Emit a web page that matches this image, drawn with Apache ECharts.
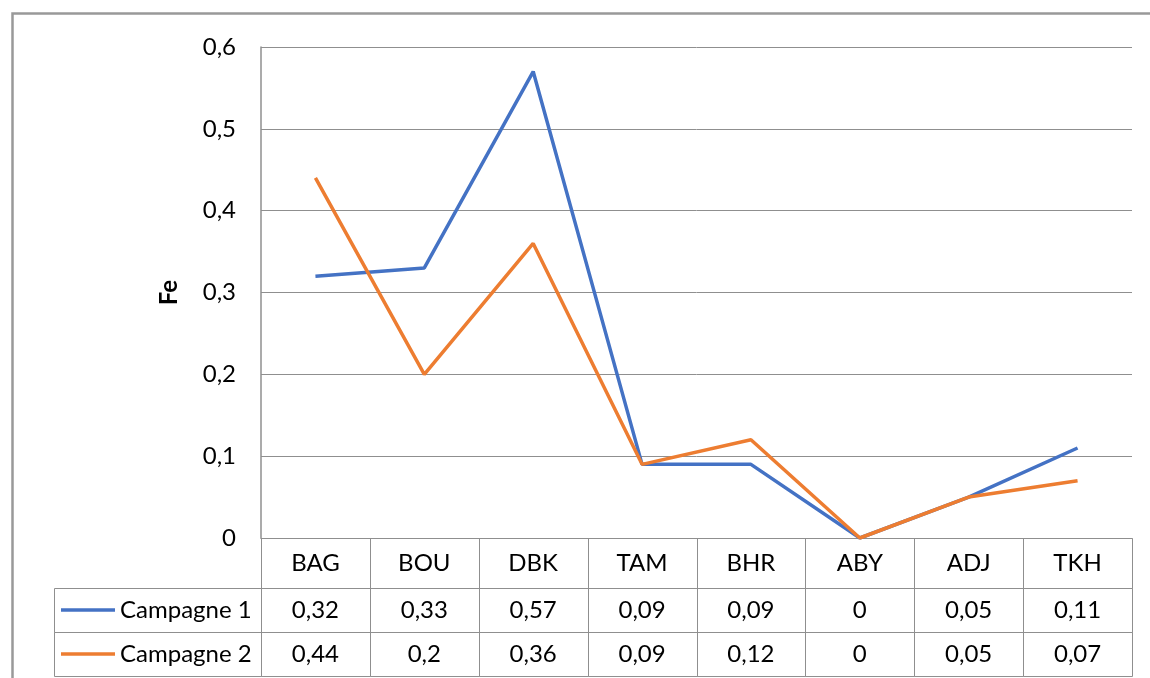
<!DOCTYPE html>
<html>
<head>
<meta charset="utf-8">
<script src="https://cdn.jsdelivr.net/npm/echarts@6/dist/echarts.min.js"></script>
<style>
html,body{margin:0;padding:0;background:#fff;}
#chart{width:1150px;height:678px;}
</style>
</head>
<body>
<div id="chart"></div>
<script>
const categories = ['BAG','BOU','DBK','TAM','BHR','ABY','ADJ','TKH'];
const campagne1 = [0.32,0.33,0.57,0.09,0.09,0,0.05,0.11];
const campagne2 = [0.44,0.2,0.36,0.09,0.12,0,0.05,0.07];
const seriesNames = ['Campagne 1','Campagne 2'];
const seriesColors = ['#4472C4','#ED7D31'];
const yName = 'Fe';
const yMin = 0, yMax = 0.6, yStep = 0.1;

const FONT = 'Lato';
const FS = 24;
const BORDER = '#8f8f8f';
const rowEdges = [0, 50, 94, 138];   // table row boundaries (layout units)
const labelColWidth = 207;

function fmt(v){
  if (v === 0) return '0';
  return String(+v.toFixed(2)).replace('.', ',');
}

const seriesValues = [campagne1, campagne2];
const cells = [];
categories.forEach((c, i) => cells.push({col: i, row: 0, text: c}));
seriesValues.forEach((vals, s) => {
  cells.push({col: -1, row: s + 1, text: seriesNames[s], color: seriesColors[s]});
  vals.forEach((v, i) => cells.push({col: i, row: s + 1, text: fmt(v)}));
});

function crisp(v){ return Math.round(v) + 0.5; }

function renderCell(params, api){
  const cell = cells[params.dataIndex];
  const cs = params.coordSys;
  const yTop = api.coord([0, rowEdges[cell.row]])[1];
  const yBot = api.coord([0, rowEdges[cell.row + 1]])[1];
  let x0, x1;
  if (cell.col < 0) {
    x1 = cs.x; x0 = cs.x - labelColWidth;
  } else {
    const cx = api.coord([cell.col, 0])[0];
    const w = api.size([1, 0])[0];
    x0 = cx - w / 2; x1 = cx + w / 2;
  }
  const children = [{
    type: 'rect',
    shape: {x: crisp(x0), y: crisp(yTop), width: Math.round(x1) - Math.round(x0), height: Math.round(yBot) - Math.round(yTop)},
    style: {fill: null, stroke: BORDER, lineWidth: 1}
  }];
  const ym = (yTop + yBot) / 2;
  if (cell.col < 0) {
    children.push({
      type: 'line',
      shape: {x1: x0 + 7, y1: ym, x2: x0 + 61, y2: ym},
      style: {stroke: cell.color, lineWidth: 3.5}
    });
    children.push({
      type: 'text',
      style: {text: cell.text, x: x0 + 66, y: ym, align: 'left', verticalAlign: 'middle',
              fontFamily: FONT, fontSize: FS, fill: '#000'}
    });
  } else {
    children.push({
      type: 'text',
      style: {text: cell.text, x: (x0 + x1) / 2, y: ym, align: 'center', verticalAlign: 'middle',
              fontFamily: FONT, fontSize: FS, fill: '#000'}
    });
  }
  return {type: 'group', children};
}

const chart = echarts.init(document.getElementById('chart'), null, {renderer: 'canvas'});
chart.setOption({
  animation: false,
  backgroundColor: '#fff',
  graphic: [{
    type: 'rect', left: 10, top: 11, silent: true,
    shape: {width: 1170, height: 720},
    style: {fill: null, stroke: '#999999', lineWidth: 2.5}
  }],
  grid: [
    {left: 261, right: 18, top: 47, height: 491},
    {left: 261, right: 18, top: 538, height: 138}
  ],
  xAxis: [
    {type: 'category', gridIndex: 0, data: categories, boundaryGap: true,
     axisLine: {show: true, lineStyle: {color: BORDER, width: 1}},
     axisTick: {show: false}, axisLabel: {show: false}, splitLine: {show: false}},
    {type: 'category', gridIndex: 1, data: categories, boundaryGap: true, show: false}
  ],
  yAxis: [
    {type: 'value', gridIndex: 0, min: yMin, max: yMax, interval: yStep,
     name: yName, nameLocation: 'middle', nameGap: 80, nameRotate: 90,
     nameTextStyle: {fontFamily: FONT, fontSize: FS, fontWeight: 'bold', color: '#000'},
     axisLine: {show: true, lineStyle: {color: BORDER, width: 1.5}},
     axisTick: {show: false},
     axisLabel: {margin: 25, fontFamily: FONT, fontSize: FS, color: '#000', formatter: fmt},
     splitLine: {show: true, lineStyle: {color: BORDER, width: 1}}},
    {type: 'value', gridIndex: 1, min: rowEdges[0], max: rowEdges[rowEdges.length - 1], inverse: true, show: false}
  ],
  series: [
    {name: seriesNames[0], type: 'line', xAxisIndex: 0, yAxisIndex: 0, data: campagne1,
     showSymbol: false, lineStyle: {color: seriesColors[0], width: 3.5}, itemStyle: {color: seriesColors[0]}},
    {name: seriesNames[1], type: 'line', xAxisIndex: 0, yAxisIndex: 0, data: campagne2,
     showSymbol: false, lineStyle: {color: seriesColors[1], width: 3.5}, itemStyle: {color: seriesColors[1]}},
    {type: 'custom', xAxisIndex: 1, yAxisIndex: 1, renderItem: renderCell, clip: false,
     data: cells.map(c => [c.col, rowEdges[c.row]])}
  ]
});
</script>
</body>
</html>
